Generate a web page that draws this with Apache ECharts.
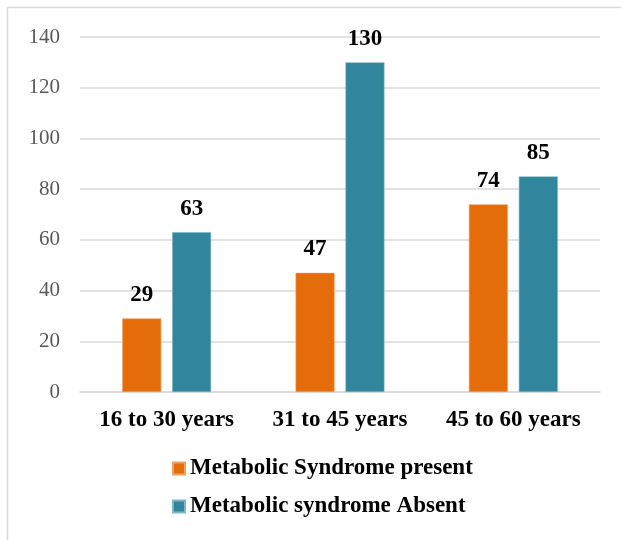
<!DOCTYPE html>
<html>
<head>
<meta charset="utf-8">
<script src="https://cdn.jsdelivr.net/npm/echarts@6/dist/echarts.min.js"></script>
<style>
  html, body { margin: 0; padding: 0; background: #fff; }
  #chart { width: 621px; height: 540px; }
</style>
</head>
<body>
<div id="chart"></div>
<script>
// Age groups and counts per metabolic syndrome status
const categories = ['16 to 30 years', '31 to 45 years', '45 to 60 years'];
const presentValues = [29, 47, 74];
const absentValues = [63, 130, 85];
const seriesNames = ['Metabolic Syndrome present', 'Metabolic syndrome Absent'];

const serif = '"Liberation Serif", "DejaVu Serif", serif';
const chart = echarts.init(document.getElementById('chart'));

const valueLabel = {
  show: true,
  position: 'top',
  distance: 12,
  fontFamily: serif,
  fontWeight: 'bold',
  fontSize: 23,
  color: '#000'
};

chart.setOption({
  animation: false,
  graphic: [
    { type: 'line', shape: { x1: 7.5, y1: 7.5, x2: 621, y2: 7.5 }, style: { stroke: '#d9d9d9', lineWidth: 1.5 } },
    { type: 'line', shape: { x1: 7.5, y1: 7.5, x2: 7.5, y2: 540 }, style: { stroke: '#d9d9d9', lineWidth: 1.5 } }
  ],
  grid: { left: 80, right: 21, top: 37, bottom: 148 },
  legend: {
    orient: 'vertical',
    left: 167,
    top: 452,
    padding: 5,
    itemGap: 15,
    itemWidth: 12,
    itemHeight: 12,
    icon: 'rect',
    textStyle: { fontFamily: serif, fontWeight: 'bold', fontSize: 23, color: '#000' },
    data: seriesNames
  },
  xAxis: {
    type: 'category',
    data: categories,
    axisLine: { lineStyle: { color: '#d9d9d9', width: 1.5 } },
    axisTick: { show: false },
    axisLabel: { interval: 0, fontFamily: serif, fontWeight: 'bold', fontSize: 23, color: '#000', margin: 17 }
  },
  yAxis: {
    type: 'value',
    min: 0,
    max: 140,
    interval: 20,
    axisLine: { show: false },
    axisTick: { show: false },
    splitLine: { lineStyle: { color: '#d9d9d9', width: 1.5 } },
    axisLabel: { fontFamily: serif, fontSize: 21, color: '#595959', margin: 20 }
  },
  series: [
    {
      name: seriesNames[0],
      type: 'bar',
      data: presentValues,
      barWidth: 39,
      barGap: '28%',
      itemStyle: { color: '#E46C0A', borderColor: '#F4A060', borderWidth: 0.6 },
      label: valueLabel
    },
    {
      name: seriesNames[1],
      type: 'bar',
      data: absentValues,
      barWidth: 39,
      itemStyle: { color: '#31859C', borderColor: '#7EB8C8', borderWidth: 0.6 },
      label: valueLabel
    }
  ]
});
</script>
</body>
</html>
